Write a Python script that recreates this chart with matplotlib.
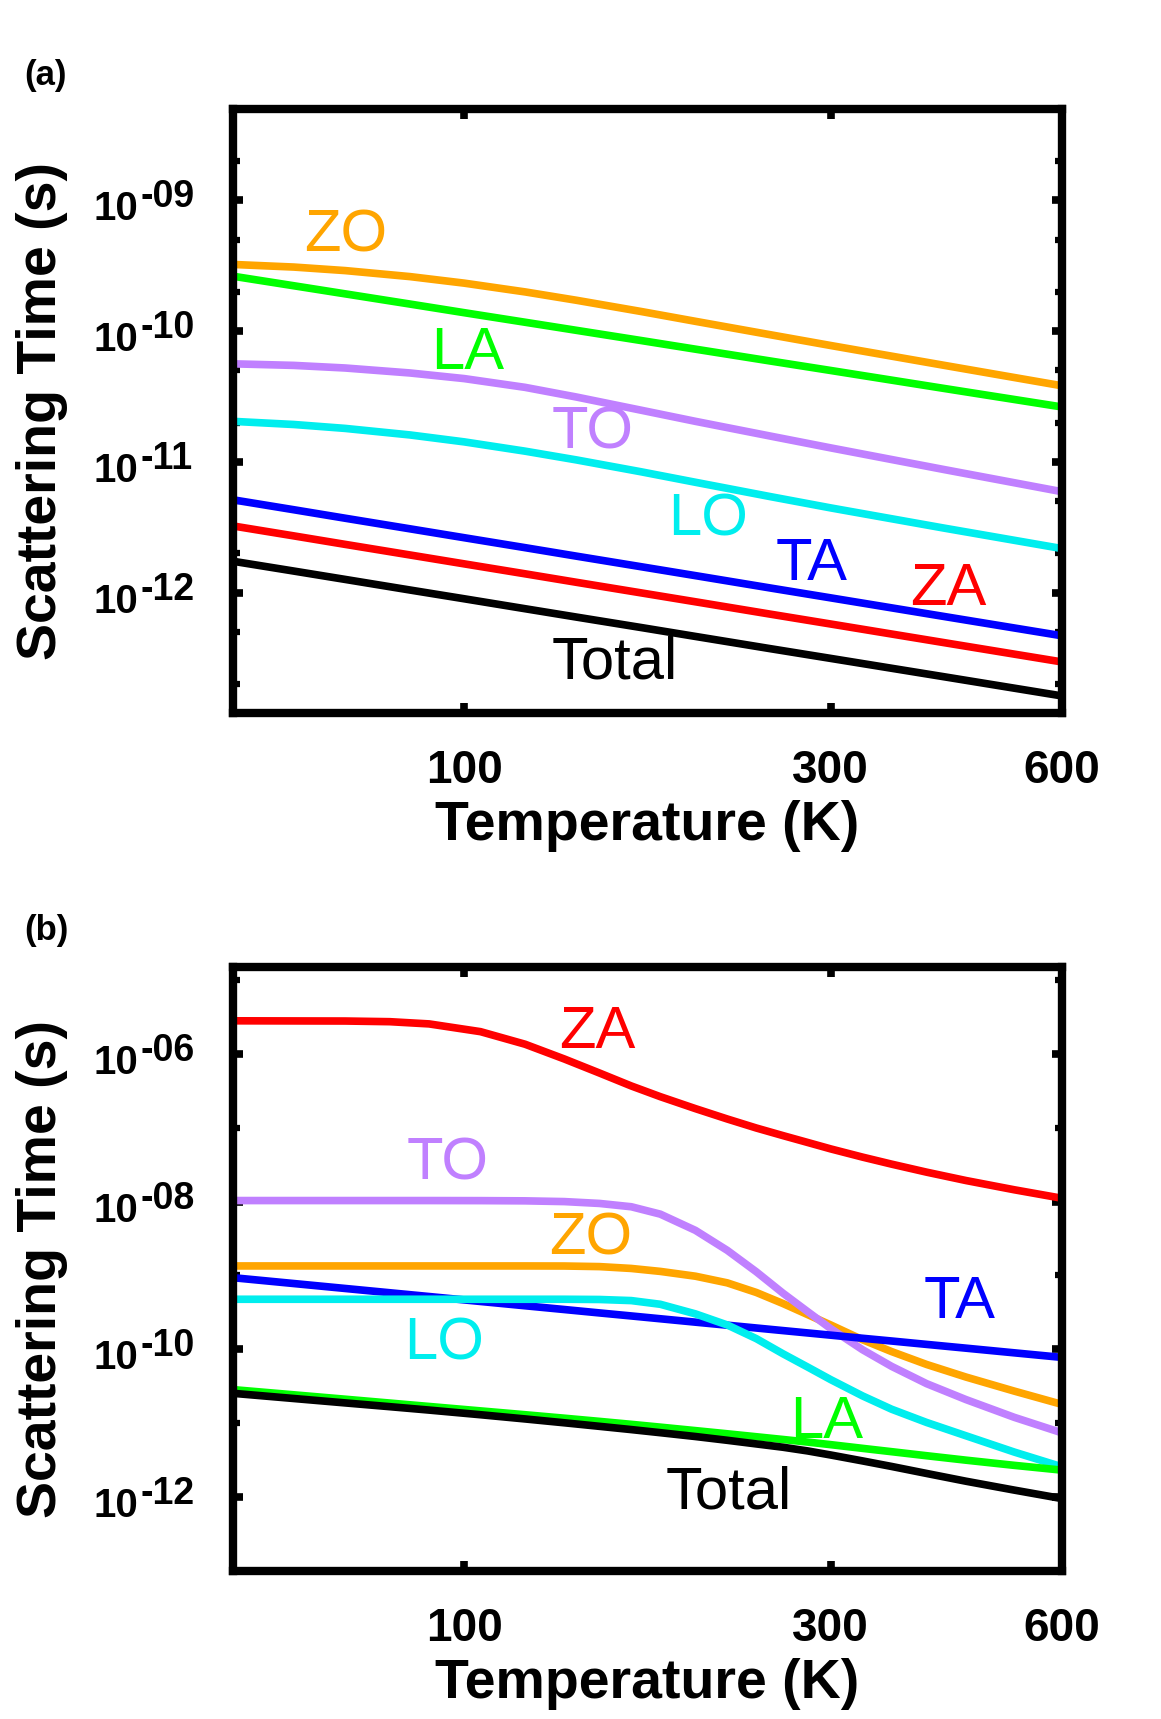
import numpy as np
import matplotlib.pyplot as plt
from matplotlib.ticker import FixedLocator, LogLocator, NullLocator, NullFormatter

plt.rcParams['font.family'] = ['Liberation Sans', 'DejaVu Sans']

# ---- panel (a): log10 of scattering time (s) vs temperature (K)
temp_a = [50, 60, 70, 85, 100, 120, 140, 170, 200, 250, 300, 420, 600]
zo_a = [-9.49, -9.51, -9.537, -9.583, -9.633, -9.70, -9.764, -9.85, -9.925,
        -10.027, -10.11, -10.26, -10.418]
la_a = [-9.58, -9.653, -9.715, -9.793, -9.859, -9.932, -9.994, -10.072,
        -10.138, -10.228, -10.301, -10.437, -10.58]
to_a = [-10.25, -10.262, -10.282, -10.32, -10.363, -10.43, -10.504, -10.605,
        -10.69, -10.802, -10.893, -11.057, -11.228]
lo_a = [-10.69, -10.714, -10.744, -10.794, -10.847, -10.918, -10.985, -11.076,
        -11.156, -11.265, -11.352, -11.505, -11.663]
ta_a = [-11.29, -11.366, -11.431, -11.512, -11.58, -11.656, -11.721, -11.802,
        -11.87, -11.964, -12.04, -12.181, -12.33]
za_a = [-11.49, -11.566, -11.631, -11.712, -11.78, -11.856, -11.921, -12.002,
        -12.07, -12.164, -12.24, -12.381, -12.53]
total_a = [-11.76, -11.835, -11.899, -11.98, -12.047, -12.123, -12.187, -12.267,
           -12.335, -12.428, -12.503, -12.642, -12.79]

# ---- panel (b)
temp_b = [50, 70, 80, 90, 105, 120, 135, 150, 165, 180, 200, 220, 240, 260,
          280, 300, 330, 360, 400, 450, 520, 600]
za_b = [-5.553, -5.556, -5.565, -5.595, -5.70, -5.87, -6.07, -6.26, -6.435,
        -6.58, -6.742, -6.882, -7.004, -7.107, -7.20, -7.287, -7.398, -7.493,
        -7.602, -7.715, -7.84, -7.955]
to_b = [-7.986, -7.986, -7.986, -7.986, -7.987, -7.99, -8.0, -8.025, -8.07,
        -8.17, -8.39, -8.66, -8.95, -9.24, -9.49, -9.72, -10.005, -10.23,
        -10.465, -10.68, -10.92, -11.13]
zo_b = [-8.871, -8.871, -8.871, -8.871, -8.871, -8.871, -8.872, -8.88, -8.905,
        -8.945, -9.01, -9.10, -9.23, -9.38, -9.53, -9.67, -9.87, -10.03,
        -10.205, -10.375, -10.565, -10.745]
ta_b = [-9.03, -9.176, -9.234, -9.285, -9.352, -9.41, -9.461, -9.507, -9.548,
        -9.586, -9.632, -9.673, -9.711, -9.746, -9.778, -9.808, -9.85, -9.887,
        -9.933, -9.984, -10.047, -10.109]
lo_b = [-9.322, -9.322, -9.322, -9.322, -9.322, -9.322, -9.322, -9.325, -9.34,
        -9.39, -9.52, -9.67, -9.855, -10.06, -10.24, -10.41, -10.63, -10.81,
        -10.99, -11.17, -11.39, -11.59]
la_b = [-10.545, -10.675, -10.727, -10.773, -10.833, -10.885, -10.932, -10.975,
        -11.015, -11.053, -11.10, -11.143, -11.183, -11.22, -11.255, -11.29,
        -11.34, -11.385, -11.44, -11.50, -11.57, -11.635]
total_b = [-10.595, -10.725, -10.776, -10.822, -10.885, -10.942, -10.994,
           -11.042, -11.086, -11.128, -11.18, -11.231, -11.28, -11.325, -11.375,
           -11.43, -11.51, -11.585, -11.68, -11.785, -11.905, -12.02]

xticks = [100, 300, 600]
xticklabels = ['100', '300', '600']
yticks_a = [1e-12, 1e-11, 1e-10, 1e-9]
yticks_b = [1e-12, 1e-10, 1e-8, 1e-6]
yminor_b = [1e-11, 1e-9, 1e-7, 1e-5]

colors = {'ZA': '#ff0000', 'TA': '#0000ff', 'LA': '#00ff00', 'ZO': '#ffa500',
          'TO': '#c080ff', 'LO': '#00eeee', 'Total': '#000000'}

# label name, T, tau
labels_a = [('ZO', 70, 4.1e-10), ('LA', 101, 5.1e-11), ('TO', 147, 1.26e-11),
            ('LO', 208, 2.72e-12), ('TA', 283, 1.24e-12), ('ZA', 427, 8.0e-13),
            ('Total', 157, 2.21e-13)]
labels_b = [('ZA', 149, 1.2e-6), ('TO', 95, 1.97e-8), ('ZO', 146, 1.9e-9),
            ('LO', 94, 7.2e-11), ('TA', 442, 2.66e-10), ('LA', 296, 6.3e-12),
            ('Total', 221, 7.1e-13)]

fig = plt.figure(figsize=(11.61, 17.19), dpi=100)
ax_a = fig.add_axes([0.2007, 0.5852, 0.714, 0.3514])
ax_b = fig.add_axes([0.2007, 0.0861, 0.714, 0.3514])


def draw(ax, temp, series, ylim, yticks, labels):
    for name, vals in series:
        ax.plot(temp, 10 ** np.array(vals), color=colors[name], lw=5.5,
                solid_capstyle='butt', solid_joinstyle='round')
    for name, t, tau in labels:
        ax.text(t, tau, name, color=colors[name], fontsize=43,
                ha='center', va='baseline')
    ax.set_xscale('log')
    ax.set_yscale('log')
    ax.set_xlim(50, 600)
    ax.set_ylim(*ylim)
    ax.xaxis.set_major_locator(FixedLocator(xticks))
    ax.xaxis.set_minor_locator(NullLocator())
    ax.set_xticklabels(xticklabels)
    ax.yaxis.set_major_locator(FixedLocator(yticks))
    ax.yaxis.set_major_formatter(NullFormatter())
    ax.yaxis.set_minor_formatter(NullFormatter())
    for v in yticks:
        e = int(round(np.log10(v)))
        ax.annotate('10', xy=(0, v), xycoords=('axes fraction', 'data'),
                    xytext=(-68, -14.4), textcoords='offset points',
                    ha='right', va='baseline', fontsize=29, fontweight='bold')
        ax.annotate('-%02d' % -e, xy=(0, v), xycoords=('axes fraction', 'data'),
                    xytext=(-66.5, -5), textcoords='offset points',
                    ha='left', va='baseline', fontsize=27, fontweight='bold')
    ax.tick_params(which='both', direction='in', top=True, right=True)
    ax.tick_params(which='major', length=7.5, width=5.5, pad=26,
                   labelsize=33)
    ax.tick_params(which='minor', length=5, width=4.5)
    for lab in ax.get_xticklabels():
        lab.set_fontweight('bold')
    for sp in ax.spines.values():
        sp.set_linewidth(6)
    ax.set_xlabel('Temperature (K)', fontsize=40, fontweight='bold')
    ax.set_ylabel('Scattering Time (s)', fontsize=40, fontweight='bold')
    ax.xaxis.set_label_coords(0.5, -0.144)
    ax.yaxis.set_label_coords(-0.199, 0.5)


draw(ax_a, temp_a,
     [('ZO', zo_a), ('LA', la_a), ('TO', to_a), ('LO', lo_a),
      ('TA', ta_a), ('ZA', za_a), ('Total', total_a)],
     (1.2e-13, 5e-9), yticks_a, labels_a)
ax_a.yaxis.set_minor_locator(LogLocator(base=10, subs=(2, 5)))

draw(ax_b, temp_b,
     [('ZA', za_b), ('ZO', zo_b), ('TO', to_b), ('TA', ta_b),
      ('LO', lo_b), ('LA', la_b), ('Total', total_b)],
     (1e-13, 1.5e-5), yticks_b, labels_b)
ax_b.yaxis.set_minor_locator(FixedLocator(yminor_b))

fig.text(46 / 1161, 1 - 75 / 1719, '(a)', fontsize=25, fontweight='bold',
         ha='center', va='center')
fig.text(46 / 1161, 1 - 930 / 1719, '(b)', fontsize=25, fontweight='bold',
         ha='center', va='center')

fig.savefig('out.png', dpi=100)
